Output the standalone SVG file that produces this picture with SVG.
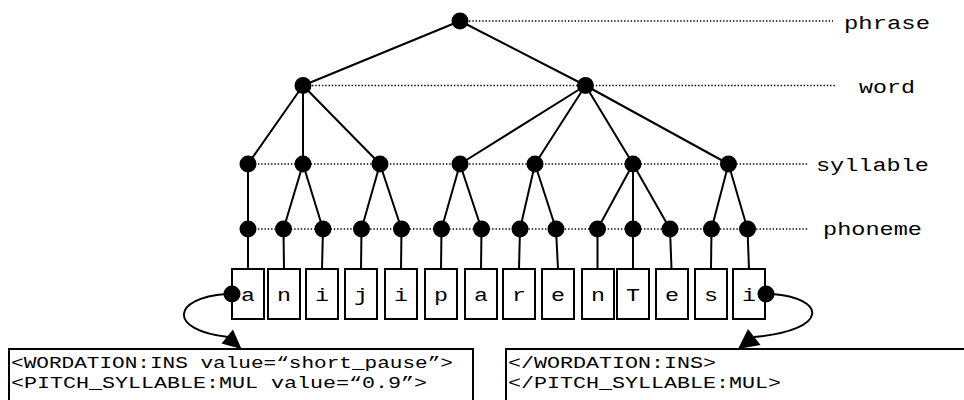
<svg xmlns="http://www.w3.org/2000/svg" width="964" height="400" viewBox="0 0 964 400">
  <style>
    .lvl { stroke: #000; stroke-width: 1.4; stroke-dasharray: 1.4 1.9; fill: none; }
    .edge { stroke: #000; stroke-width: 2; fill: none; }
    .node { fill: #000; }
    .box { fill: #fff; stroke: #000; stroke-width: 2; }
    .lbl { font-family: "Liberation Mono", "Courier New", monospace; font-size: 19px; fill: #000; }
    .ch { font-family: "Liberation Mono", "Courier New", monospace; font-size: 18.5px; fill: #000; }
    .tag { font-family: "Liberation Mono", "Courier New", monospace; font-size: 16px; fill: #000; }
    .curve { stroke: #000; stroke-width: 2; fill: none; }
    .head { fill: #000; }
  </style>

  <!-- level guide lines -->
  <g id="levels">
    <line class="lvl" x1="469" y1="21" x2="833" y2="21"/>
    <line class="lvl" x1="312" y1="85.5" x2="835" y2="85.5"/>
    <line class="lvl" x1="248" y1="164" x2="808" y2="164"/>
    <line class="lvl" x1="248" y1="229" x2="808" y2="229"/>
  </g>

  <!-- level labels -->
  <g id="labels">
    <text class="lbl" x="844" y="29" textLength="86" lengthAdjust="spacingAndGlyphs">phrase</text>
    <text class="lbl" x="859" y="92.5" textLength="56" lengthAdjust="spacingAndGlyphs">word</text>
    <text class="lbl" x="816" y="171" textLength="113" lengthAdjust="spacingAndGlyphs">syllable</text>
    <text class="lbl" x="823" y="235" textLength="99" lengthAdjust="spacingAndGlyphs">phoneme</text>
  </g>

  <!-- tree connectors -->
  <g id="connectors">
    <!-- phrase to words -->
    <line class="edge" x1="460" y1="21" x2="303" y2="85.5"/>
    <line class="edge" x1="460" y1="21" x2="585.5" y2="85.5"/>
    <!-- words to syllables -->
    <line class="edge" x1="303" y1="85.5" x2="248" y2="164"/>
    <line class="edge" x1="303" y1="85.5" x2="303" y2="164"/>
    <line class="edge" x1="303" y1="85.5" x2="380" y2="164"/>
    <line class="edge" x1="585.5" y1="85.5" x2="460" y2="164"/>
    <line class="edge" x1="585.5" y1="85.5" x2="535" y2="164"/>
    <line class="edge" x1="585.5" y1="85.5" x2="633" y2="164"/>
    <line class="edge" x1="585.5" y1="85.5" x2="728.5" y2="164"/>
    <!-- syllables to phonemes -->
    <line class="edge" x1="248" y1="164" x2="248" y2="229"/>
    <line class="edge" x1="303" y1="164" x2="283.5" y2="229"/>
    <line class="edge" x1="303" y1="164" x2="323" y2="229"/>
    <line class="edge" x1="380" y1="164" x2="361.5" y2="229"/>
    <line class="edge" x1="380" y1="164" x2="401.5" y2="229"/>
    <line class="edge" x1="460" y1="164" x2="441.5" y2="229"/>
    <line class="edge" x1="460" y1="164" x2="481.5" y2="229"/>
    <line class="edge" x1="535" y1="164" x2="520" y2="229"/>
    <line class="edge" x1="535" y1="164" x2="556" y2="229"/>
    <line class="edge" x1="633" y1="164" x2="597.5" y2="229"/>
    <line class="edge" x1="633" y1="164" x2="633" y2="229"/>
    <line class="edge" x1="633" y1="164" x2="670" y2="229"/>
    <line class="edge" x1="728.5" y1="164" x2="711.5" y2="229"/>
    <line class="edge" x1="728.5" y1="164" x2="747.5" y2="229"/>
    <!-- phonemes to segments -->
    <line class="edge" x1="248" y1="229" x2="248" y2="269"/>
    <line class="edge" x1="283.5" y1="229" x2="284" y2="269"/>
    <line class="edge" x1="323" y1="229" x2="322" y2="269"/>
    <line class="edge" x1="361.5" y1="229" x2="361" y2="269"/>
    <line class="edge" x1="401.5" y1="229" x2="401" y2="269"/>
    <line class="edge" x1="441.5" y1="229" x2="441" y2="269"/>
    <line class="edge" x1="481.5" y1="229" x2="481" y2="269"/>
    <line class="edge" x1="520" y1="229" x2="519" y2="269"/>
    <line class="edge" x1="556" y1="229" x2="558" y2="269"/>
    <line class="edge" x1="597.5" y1="229" x2="597.5" y2="269"/>
    <line class="edge" x1="633" y1="229" x2="633" y2="269"/>
    <line class="edge" x1="670" y1="229" x2="671.5" y2="269"/>
    <line class="edge" x1="711.5" y1="229" x2="711" y2="269"/>
    <line class="edge" x1="747.5" y1="229" x2="749" y2="269"/>
    <!-- curved links to the markup boxes -->
    <path class="curve" d="M 226 294 C 172 298, 167 330, 228 337"/>
    <polygon class="head" points="233,329.5 221.5,343.5 241.5,349"/>
    <path class="curve" d="M 772 294 C 826 298, 831 330, 754 337"/>
    <polygon class="head" points="748,329 760.5,345 738,349"/>
  </g>

  <!-- tree nodes -->
  <g id="n-phrase"><circle class="node" cx="460" cy="21" r="8.5"/></g>
  <g id="n-word-1"><circle class="node" cx="303" cy="85.5" r="8.5"/></g>
  <g id="n-word-2"><circle class="node" cx="585.5" cy="85.5" r="8.5"/></g>
  <g id="n-syl-1"><circle class="node" cx="248" cy="164" r="8.5"/></g>
  <g id="n-syl-2"><circle class="node" cx="303" cy="164" r="8.5"/></g>
  <g id="n-syl-3"><circle class="node" cx="380" cy="164" r="8.5"/></g>
  <g id="n-syl-4"><circle class="node" cx="460" cy="164" r="8.5"/></g>
  <g id="n-syl-5"><circle class="node" cx="535" cy="164" r="8.5"/></g>
  <g id="n-syl-6"><circle class="node" cx="633" cy="164" r="8.5"/></g>
  <g id="n-syl-7"><circle class="node" cx="728.5" cy="164" r="8.5"/></g>
  <g id="n-ph-1"><circle class="node" cx="248" cy="229" r="8.5"/></g>
  <g id="n-ph-2"><circle class="node" cx="283.5" cy="229" r="8.5"/></g>
  <g id="n-ph-3"><circle class="node" cx="323" cy="229" r="8.5"/></g>
  <g id="n-ph-4"><circle class="node" cx="361.5" cy="229" r="8.5"/></g>
  <g id="n-ph-5"><circle class="node" cx="401.5" cy="229" r="8.5"/></g>
  <g id="n-ph-6"><circle class="node" cx="441.5" cy="229" r="8.5"/></g>
  <g id="n-ph-7"><circle class="node" cx="481.5" cy="229" r="8.5"/></g>
  <g id="n-ph-8"><circle class="node" cx="520" cy="229" r="8.5"/></g>
  <g id="n-ph-9"><circle class="node" cx="556" cy="229" r="8.5"/></g>
  <g id="n-ph-10"><circle class="node" cx="597.5" cy="229" r="8.5"/></g>
  <g id="n-ph-11"><circle class="node" cx="633" cy="229" r="8.5"/></g>
  <g id="n-ph-12"><circle class="node" cx="670" cy="229" r="8.5"/></g>
  <g id="n-ph-13"><circle class="node" cx="711.5" cy="229" r="8.5"/></g>
  <g id="n-ph-14"><circle class="node" cx="747.5" cy="229" r="8.5"/></g>

  <!-- segment boxes -->
  <g id="seg-1"><rect class="box" x="232" y="269" width="32" height="50"/><text class="ch" x="241" y="301" textLength="14" lengthAdjust="spacingAndGlyphs">a</text></g>
  <g id="seg-2"><rect class="box" x="268" y="269" width="32" height="50"/><text class="ch" x="277" y="301" textLength="14" lengthAdjust="spacingAndGlyphs">n</text></g>
  <g id="seg-3"><rect class="box" x="306" y="269" width="32" height="50"/><text class="ch" x="315" y="301" textLength="14" lengthAdjust="spacingAndGlyphs">i</text></g>
  <g id="seg-4"><rect class="box" x="345" y="269" width="32" height="50"/><text class="ch" x="354" y="301" textLength="14" lengthAdjust="spacingAndGlyphs">j</text></g>
  <g id="seg-5"><rect class="box" x="385" y="269" width="32" height="50"/><text class="ch" x="394" y="301" textLength="14" lengthAdjust="spacingAndGlyphs">i</text></g>
  <g id="seg-6"><rect class="box" x="425" y="269" width="32" height="50"/><text class="ch" x="434" y="301" textLength="14" lengthAdjust="spacingAndGlyphs">p</text></g>
  <g id="seg-7"><rect class="box" x="465" y="269" width="32" height="50"/><text class="ch" x="474" y="301" textLength="14" lengthAdjust="spacingAndGlyphs">a</text></g>
  <g id="seg-8"><rect class="box" x="503" y="269" width="32" height="50"/><text class="ch" x="512" y="301" textLength="14" lengthAdjust="spacingAndGlyphs">r</text></g>
  <g id="seg-9"><rect class="box" x="542" y="269" width="32" height="50"/><text class="ch" x="551" y="301" textLength="14" lengthAdjust="spacingAndGlyphs">e</text></g>
  <g id="seg-10"><rect class="box" x="582" y="269" width="32" height="50"/><text class="ch" x="591" y="301" textLength="14" lengthAdjust="spacingAndGlyphs">n</text></g>
  <g id="seg-11"><rect class="box" x="617" y="269" width="32" height="50"/><text class="ch" x="626" y="301" textLength="14" lengthAdjust="spacingAndGlyphs">T</text></g>
  <g id="seg-12"><rect class="box" x="656" y="269" width="32" height="50"/><text class="ch" x="665" y="301" textLength="14" lengthAdjust="spacingAndGlyphs">e</text></g>
  <g id="seg-13"><rect class="box" x="695" y="269" width="32" height="50"/><text class="ch" x="704" y="301" textLength="14" lengthAdjust="spacingAndGlyphs">s</text></g>
  <g id="seg-14"><rect class="box" x="733" y="269" width="32" height="50"/><text class="ch" x="742" y="301" textLength="14" lengthAdjust="spacingAndGlyphs">i</text></g>

  <!-- anchor dots on first and last segment -->
  <g id="anchor-start"><circle class="node" cx="232" cy="294" r="8.5"/></g>
  <g id="anchor-end"><circle class="node" cx="766" cy="294" r="8.5"/></g>

  <!-- markup boxes -->
  <g id="markup-open">
    <rect class="box" x="9" y="349" width="464" height="70"/>
    <text class="tag" x="11" y="368" textLength="442" lengthAdjust="spacingAndGlyphs">&lt;WORDATION:INS value=“short_pause”&gt;</text>
    <text class="tag" x="11" y="388" textLength="416" lengthAdjust="spacingAndGlyphs">&lt;PITCH_SYLLABLE:MUL value=“0.9”&gt;</text>
  </g>
  <g id="markup-close">
    <rect class="box" x="506" y="349" width="470" height="70"/>
    <text class="tag" x="508" y="368" textLength="208" lengthAdjust="spacingAndGlyphs">&lt;/WORDATION:INS&gt;</text>
    <text class="tag" x="508" y="388" textLength="273" lengthAdjust="spacingAndGlyphs">&lt;/PITCH_SYLLABLE:MUL&gt;</text>
  </g>
</svg>
